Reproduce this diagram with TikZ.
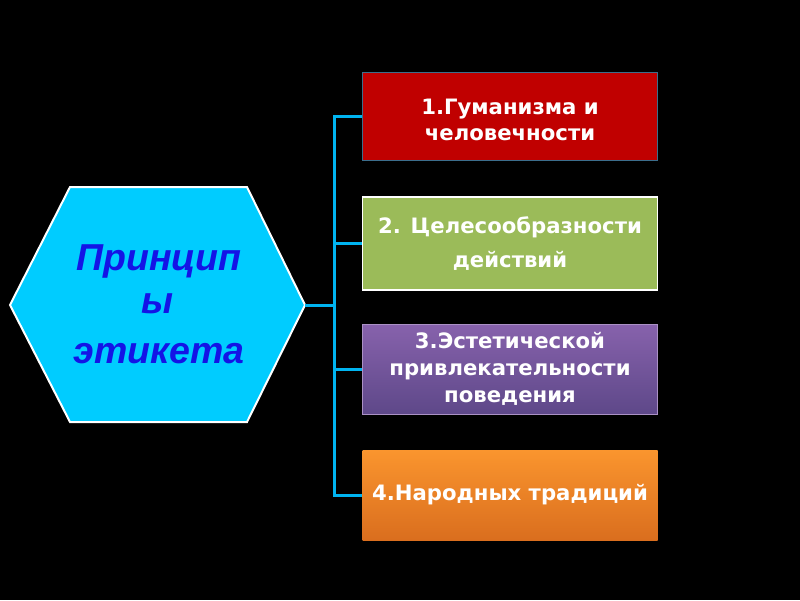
\documentclass[tikz,border=0pt]{standalone}
\usepackage{fontspec}
\setmainfont{DejaVu Sans}
\newfontfamily\hexfont{Liberation Sans}
\begin{document}
\begin{tikzpicture}[x=1pt,y=-1pt,
  conn/.style={draw=cyanline,line width=3pt},
  boxstyle/.style={rectangle,minimum width=295pt,inner sep=0pt,align=center,text=white,
    font=\bfseries\fontsize{21.2}{25.5}\selectfont},
  hextxt/.style={text=hextext,font=\hexfont\bfseries\itshape\fontsize{37.5}{40}\selectfont},
]
\definecolor{cyanline}{HTML}{00B4F0}
\definecolor{hexfill}{HTML}{00CCFF}
\definecolor{hextext}{HTML}{1414E6}
\definecolor{redbox}{HTML}{C00000}
\definecolor{redborder}{HTML}{3C6E8C}
\definecolor{greenbox}{HTML}{9BBB59}
\definecolor{purpletop}{HTML}{8762AC}
\definecolor{purplebot}{HTML}{5E4889}
\definecolor{orangetop}{HTML}{FA952E}
\definecolor{orangebot}{HTML}{DA6E1E}
\fill[black] (0,0) rectangle (800,600);
\useasboundingbox (0,0) rectangle (800,600);
% hexagon
\coordinate (hexL) at (10,305);
\coordinate (hexR) at (305,305);
\filldraw[fill=hexfill,draw=white,line width=2pt,line join=miter]
  (hexL) -- (70,187) -- (247,187) -- (hexR) -- (247,422) -- (70,422) -- cycle;
\node[hextxt] (hextitle) at (159,261) {Принцип};
\node[hextxt] (hexy) at (158,304) {ы};
\node[hextxt] (hexz) at (159,354) {этикета};
% boxes
\node[boxstyle,fill=redbox,draw=redborder,line width=1pt,minimum height=88pt] (b1) at (510,116.5)
  {\rule{0pt}{22pt}1.Гуманизма и\\человечности};
\node[boxstyle,fill=greenbox,draw=white,line width=1.5pt,minimum height=93pt,
  font=\bfseries\fontsize{21.2}{34}\selectfont] (b2) at (510,243.5)
  {2. Целесообразности\\действий};
\node[boxstyle,top color=purpletop,bottom color=purplebot,draw=purpletop!70!white,line width=0.6pt,minimum height=90pt,
  font=\bfseries\fontsize{21.2}{27}\selectfont] (b3) at (510,369)
  {3.Эстетической\\привлекательности\\поведения};
\node[boxstyle,top color=orangetop,bottom color=orangebot,minimum height=90pt] (b4) at (510,495)
  {4.Народных традиций};
% connectors
\coordinate (j) at (334,305);
\draw[conn] (hexR) -- (j);
\draw[conn] (b1.west) -- (b1.west -| j) -- (b4.west -| j) -- (b4.west);
\draw[conn] (b2.west -| j) -- (b2.west);
\draw[conn] (b3.west -| j) -- (b3.west);
\end{tikzpicture}
\end{document}
